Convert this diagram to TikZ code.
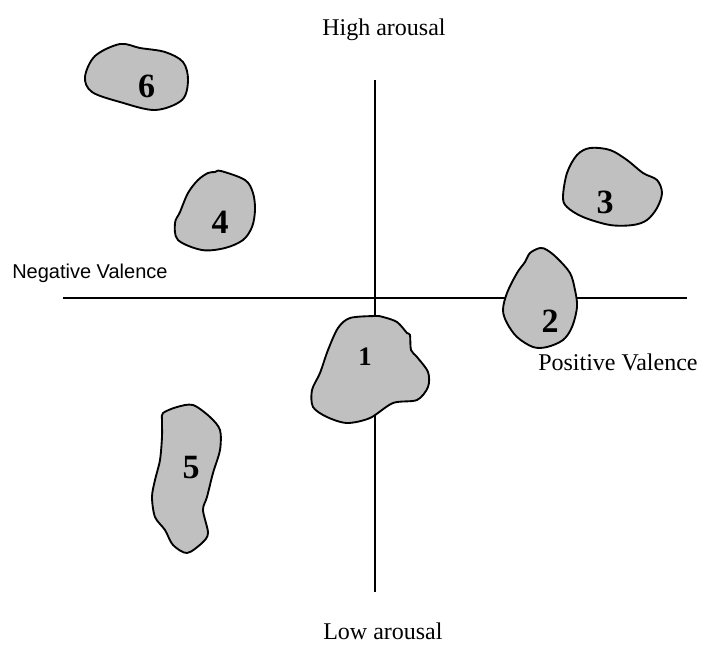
\documentclass[tikz,border=0pt]{standalone}
\usepackage{fontspec}
\setmainfont{Liberation Serif}
\newfontfamily\arialfont{Liberation Sans}
\begin{document}
\begin{tikzpicture}[x=0.75pt,y=-0.75pt,
  axis/.style={line width=1.1pt,black},
  blob/.style={fill={rgb,255:red,192;green,192;blue,192},draw=black,line width=1.4pt,line join=round},
  lbl/.style={inner sep=0pt,anchor=base west,font=\fontsize{18}{20}\selectfont},
  sanslbl/.style={inner sep=0pt,anchor=base west,font=\arialfont\fontsize{15}{17}\selectfont},
  num/.style={inner sep=0pt,anchor=base,font=\bfseries\fontsize{25.5}{28}\selectfont}]
\useasboundingbox (0,0) rectangle (701,644);

% axes
\coordinate (xl) at (63,298);
\coordinate (xr) at (687,298);
\coordinate (yt) at (375,80);
\coordinate (yb) at (375,592);
\draw[axis] (xl) -- (xr);
\draw[axis] (yt) -- (yb);

% clusters
\draw[blob] plot[smooth cycle,tension=0.55] coordinates {
  (85,77) (95,56) (120,44) (140,48) (165,52) (183,62) (188,80) (182,100)
  (155,110) (120,102) (92,92)};
\draw[blob] plot[smooth cycle,tension=0.55] coordinates {
  (215,172) (221,171) (245,180) (253,193) (255,210) (252,227) (243,240)
  (225,248) (202,250) (178,240) (175,223) (180,212) (188,193) (198,180) (208,173)};
\draw[blob] plot[smooth cycle,tension=0.5] coordinates {
  (375,316) (350,318) (338,328) (328,350) (320,373) (312,390) (313,407)
  (327,417) (347,423) (370,418) (393,403) (417,400) (428,387) (428,372)
  (417,357) (411,350) (410,335) (407,333) (397,322) (383,317)};
\draw[blob] plot[smooth cycle,tension=0.55] coordinates {
  (540,248) (530,253) (525,262) (517,273) (507,293) (503,310) (507,323)
  (517,337) (533,347) (547,347) (563,340) (572,327) (577,307) (575,290)
  (570,273) (557,258) (547,250)};
\draw[blob] plot[smooth cycle,tension=0.55] coordinates {
  (590,148) (577,155) (567,173) (563,197) (567,207) (583,217) (610,225)
  (633,225) (647,220) (657,208) (662,193) (657,180) (643,173) (627,160) (610,150)};
\draw[blob] plot[smooth cycle,tension=0.5] coordinates {
  (163,413) (177,407) (193,405) (210,417) (220,430) (220,450) (213,473)
  (207,497) (203,510) (208,533) (202,543) (187,553) (173,545) (165,530)
  (155,517) (152,497) (155,480) (160,460) (162,437) (162,420)};

% cluster numbers
\node[num] (n6) at (146.5,97) {6};
\node[num] (n4) at (220,233) {4};
\node[num,font=\bfseries\fontsize{20}{22}\selectfont] (n1) at (365,365) {1};
\node[num] (n2) at (550,332) {2};
\node[num] (n3) at (605,213) {3};
\node[num] (n5) at (191,478) {5};

% axis labels
\node[lbl] (high) at (322,35) {High arousal};
\node[lbl] (low) at (323,639) {Low arousal};
\node[lbl] (pos) at (538,370) {Positive Valence};
\node[sanslbl] (neg) at (12,278) {Negative Valence};
\end{tikzpicture}
\end{document}
